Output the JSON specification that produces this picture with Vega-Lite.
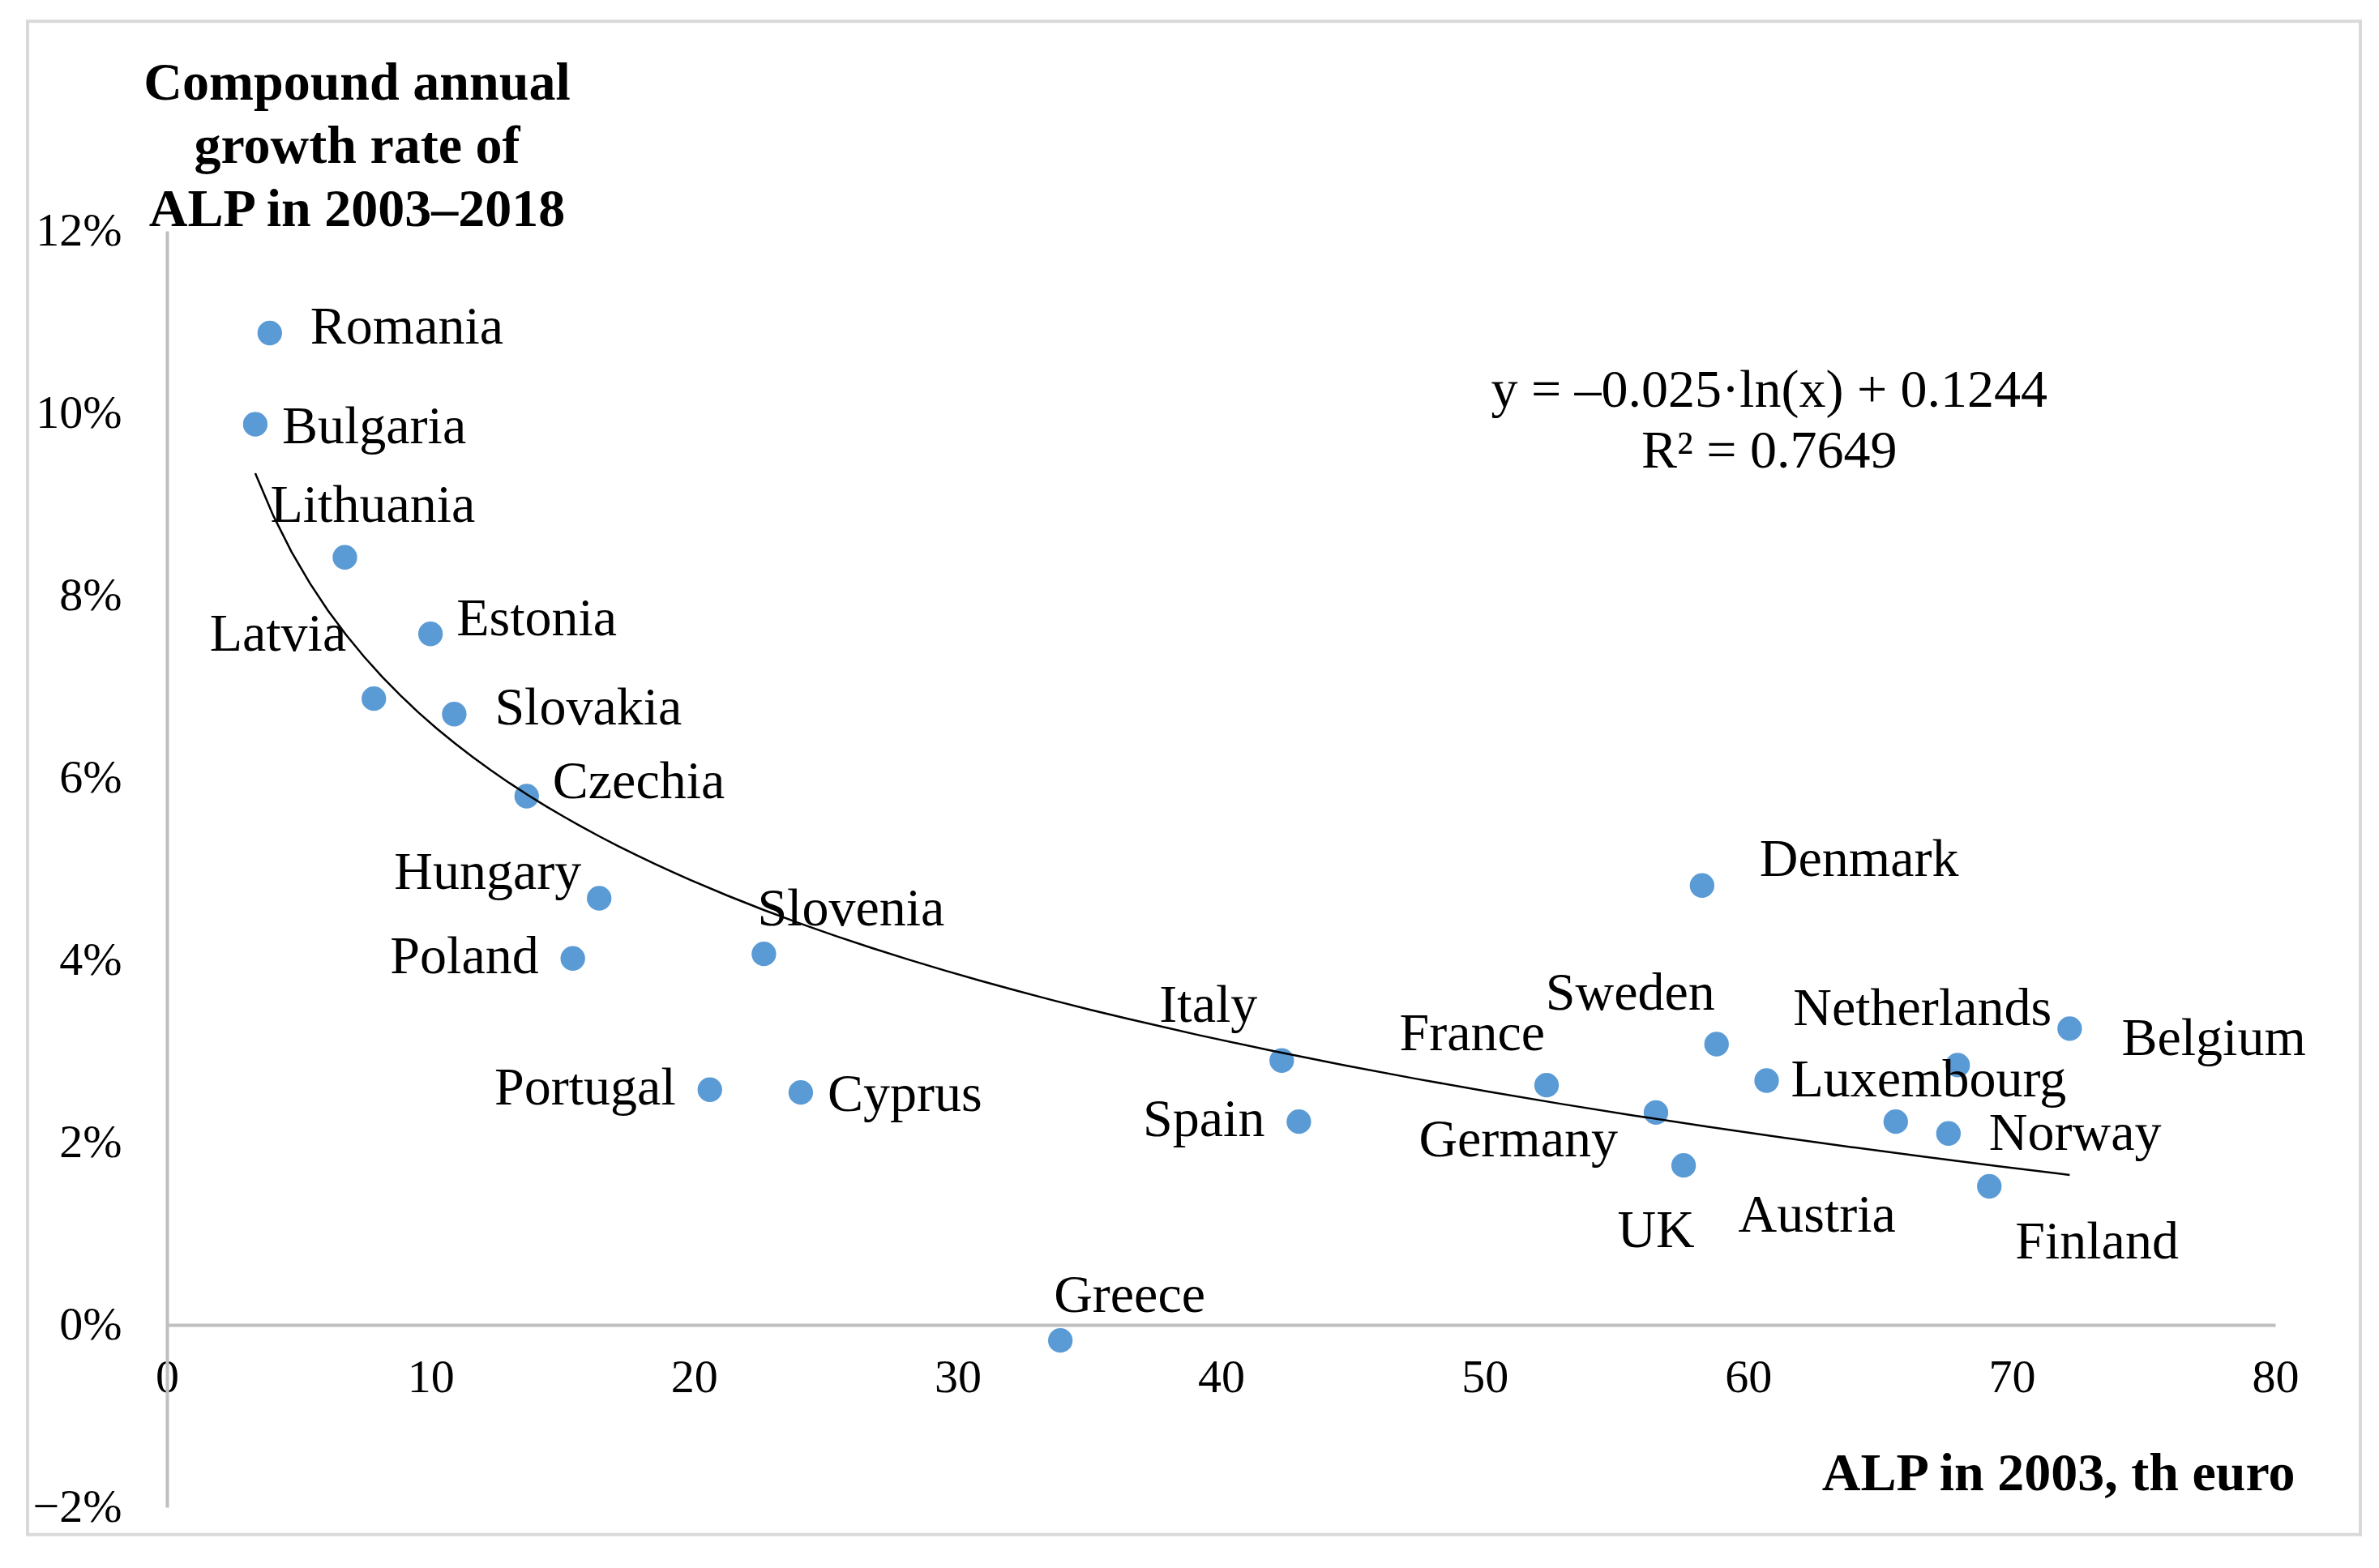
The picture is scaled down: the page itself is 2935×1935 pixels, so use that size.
{
  "$schema": "https://vega.github.io/schema/vega-lite/v6.json",
  "width": 2601,
  "height": 1575,
  "autosize": "none",
  "padding": {"left": 206, "top": 285, "right": 128, "bottom": 75},
  "background": "#ffffff",
  "view": {"stroke": null},
  "datasets": {
    "alp": [
      {"country": "Romania", "alp": 3.9, "cagr": 0.1088},
      {"country": "Bulgaria", "alp": 3.35, "cagr": 0.0988},
      {"country": "Lithuania", "alp": 6.75, "cagr": 0.0842},
      {"country": "Estonia", "alp": 10.0, "cagr": 0.0758},
      {"country": "Latvia", "alp": 7.85, "cagr": 0.0687},
      {"country": "Slovakia", "alp": 10.9, "cagr": 0.067},
      {"country": "Czechia", "alp": 13.65, "cagr": 0.058},
      {"country": "Hungary", "alp": 16.4, "cagr": 0.0468},
      {"country": "Poland", "alp": 15.4, "cagr": 0.0402},
      {"country": "Slovenia", "alp": 22.65, "cagr": 0.0407},
      {"country": "Portugal", "alp": 20.6, "cagr": 0.0258},
      {"country": "Cyprus", "alp": 24.05, "cagr": 0.0255},
      {"country": "Greece", "alp": 33.9, "cagr": -0.0017},
      {"country": "Italy", "alp": 42.3, "cagr": 0.029},
      {"country": "Spain", "alp": 42.95, "cagr": 0.0223},
      {"country": "France", "alp": 52.35, "cagr": 0.0263},
      {"country": "Denmark", "alp": 58.25, "cagr": 0.0482},
      {"country": "Sweden", "alp": 58.8, "cagr": 0.0308},
      {"country": "Germany", "alp": 56.5, "cagr": 0.0233},
      {"country": "UK", "alp": 57.55, "cagr": 0.0175},
      {"country": "Luxembourg", "alp": 60.7, "cagr": 0.0268},
      {"country": "Austria", "alp": 65.6, "cagr": 0.0223},
      {"country": "Netherlands", "alp": 67.95, "cagr": 0.0285},
      {"country": "Norway", "alp": 67.6, "cagr": 0.021},
      {"country": "Finland", "alp": 69.15, "cagr": 0.0152},
      {"country": "Belgium", "alp": 72.2, "cagr": 0.0325}
    ],
    "note": [
      {"line": "y = \u20130.025\u00b7ln(x)  + 0.1244", "at_x": 60.8, "at_y": 0.1025},
      {"line": "R\u00b2 = 0.7649", "at_x": 60.8, "at_y": 0.0958}
    ]
  },
  "data": {"name": "alp"},
  "layer": [
    {
      "mark": {"type": "circle", "size": 920, "color": "#5b9bd5", "opacity": 1},
      "encoding": {
        "x": {
          "field": "alp",
          "type": "quantitative",
          "scale": {"domain": [0, 80], "nice": false, "zero": false},
          "axis": {
            "title": "ALP in 2003, th euro",
            "titleFont": "Liberation Serif",
            "titleFontSize": 66,
            "titleFontWeight": "bold",
            "titleColor": "#000000",
            "titleAlign": "right",
            "titleAnchor": null,
            "titleX": 2625,
            "titleY": 203,
            "titleBaseline": "alphabetic",
            "offset": -225,
            "values": [0, 10, 20, 30, 40, 50, 60, 70, 80],
            "format": "d",
            "labelFont": "Liberation Serif",
            "labelFontSize": 58,
            "labelColor": "#000000",
            "labelPadding": 36,
            "labelFlush": false,
            "ticks": false,
            "grid": false,
            "domainColor": "#bfbfbf",
            "domainWidth": 4
          }
        },
        "y": {
          "field": "cagr",
          "type": "quantitative",
          "scale": {"domain": [-0.02, 0.12], "nice": false, "zero": false},
          "axis": {
            "title": ["Compound  annual", "growth  rate of", "ALP in 2003\u20132018"],
            "titleFont": "Liberation Serif",
            "titleFontSize": 66,
            "titleFontWeight": "bold",
            "titleColor": "#000000",
            "titleAngle": 0,
            "titleAlign": "center",
            "titleAnchor": null,
            "titleX": 234,
            "titleY": -163,
            "titleBaseline": "alphabetic",
            "titleLineHeight": 78,
            "values": [-0.02, 0, 0.02, 0.04, 0.06, 0.08, 0.1, 0.12],
            "format": ".0%",
            "labelFont": "Liberation Serif",
            "labelFontSize": 58,
            "labelColor": "#000000",
            "labelPadding": 56,
            "labelFlush": false,
            "ticks": false,
            "grid": false,
            "domainColor": "#bfbfbf",
            "domainWidth": 4
          }
        }
      }
    },
    {
      "data": {"values": [{"x0": -5.29, "x1": 83.23, "y0": 0.143, "y1": -0.023}]},
      "mark": {"type": "rect", "filled": false, "color": "#d9d9d9", "strokeWidth": 4},
      "encoding": {
        "x": {"field": "x0", "type": "quantitative"},
        "x2": {"field": "x1"},
        "y": {"field": "y0", "type": "quantitative"},
        "y2": {"field": "y1"}
      }
    },
    {
      "transform": [{"regression": "cagr", "on": "alp", "method": "log"}],
      "mark": {"type": "line", "color": "#000000", "strokeWidth": 2.5},
      "encoding": {
        "x": {"field": "alp", "type": "quantitative"},
        "y": {"field": "cagr", "type": "quantitative"}
      }
    },
    {
      "layer": [
        {
          "transform": [{"filter": {"field": "country", "oneOf": ["Bulgaria", "Cyprus"]}}],
          "mark": {"type": "text", "align": "left", "dx": 33, "dy": 3}
        },
        {
          "transform": [{"filter": {"field": "country", "equal": "Luxembourg"}}],
          "mark": {"type": "text", "align": "left", "dx": 30, "dy": -1}
        },
        {
          "transform": [{"filter": {"field": "country", "oneOf": ["Romania", "Slovakia"]}}],
          "mark": {"type": "text", "align": "left", "dx": 50, "dy": -7}
        },
        {
          "transform": [{"filter": {"field": "country", "equal": "Norway"}}],
          "mark": {"type": "text", "align": "left", "dx": 50, "dy": 0}
        },
        {
          "transform": [{"filter": {"field": "country", "oneOf": ["Estonia", "Czechia"]}}],
          "mark": {"type": "text", "align": "left", "dx": 32, "dy": -18}
        },
        {
          "transform": [{"filter": {"field": "country", "equal": "Belgium"}}],
          "mark": {"type": "text", "align": "left", "dx": 64, "dy": 13}
        },
        {
          "transform": [{"filter": {"field": "country", "equal": "Denmark"}}],
          "mark": {"type": "text", "align": "left", "dx": 71, "dy": -32}
        },
        {
          "transform": [{"filter": {"field": "country", "oneOf": ["Poland", "Portugal", "Spain"]}}],
          "mark": {"type": "text", "align": "right", "dx": -42, "dy": -2}
        },
        {
          "transform": [{"filter": {"field": "country", "equal": "Hungary"}}],
          "mark": {"type": "text", "align": "right", "dx": -22, "dy": -32}
        },
        {
          "transform": [{"filter": {"field": "country", "oneOf": ["Sweden", "France"]}}],
          "mark": {"type": "text", "align": "right", "dx": -2, "dy": -63}
        },
        {
          "transform": [{"filter": {"field": "country", "equal": "Italy"}}],
          "mark": {"type": "text", "align": "right", "dx": -30, "dy": -68}
        },
        {
          "transform": [{"filter": {"field": "country", "equal": "Latvia"}}],
          "mark": {"type": "text", "align": "right", "dx": -34, "dy": -79}
        },
        {
          "transform": [{"filter": {"field": "country", "oneOf": ["Greece", "Slovenia"]}}],
          "mark": {"type": "text", "align": "left", "dx": -8, "dy": -55}
        },
        {
          "transform": [{"filter": {"field": "country", "equal": "Lithuania"}}],
          "mark": {"type": "text", "align": "left", "dx": -92, "dy": -64}
        },
        {
          "transform": [{"filter": {"field": "country", "equal": "Netherlands"}}],
          "mark": {"type": "text", "align": "left", "dx": -203, "dy": -69}
        },
        {
          "transform": [{"filter": {"field": "country", "equal": "Germany"}}],
          "mark": {"type": "text", "align": "right", "dx": -47, "dy": 34}
        },
        {
          "transform": [{"filter": {"field": "country", "equal": "UK"}}],
          "mark": {"type": "text", "align": "center", "dx": -34, "dy": 81}
        },
        {
          "transform": [{"filter": {"field": "country", "equal": "Austria"}}],
          "mark": {"type": "text", "align": "right", "dx": 0, "dy": 116}
        },
        {
          "transform": [{"filter": {"field": "country", "equal": "Finland"}}],
          "mark": {"type": "text", "align": "left", "dx": 32, "dy": 69}
        }
      ],
      "encoding": {
        "x": {"field": "alp", "type": "quantitative"},
        "y": {"field": "cagr", "type": "quantitative"},
        "text": {"field": "country"}
      }
    },
    {
      "data": {"name": "note"},
      "mark": {"type": "text", "align": "center"},
      "encoding": {
        "x": {"field": "at_x", "type": "quantitative"},
        "y": {"field": "at_y", "type": "quantitative"},
        "text": {"field": "line"}
      }
    }
  ],
  "config": {
    "text": {"font": "Liberation Serif", "fontSize": 66, "color": "#000000", "baseline": "middle"}
  }
}
